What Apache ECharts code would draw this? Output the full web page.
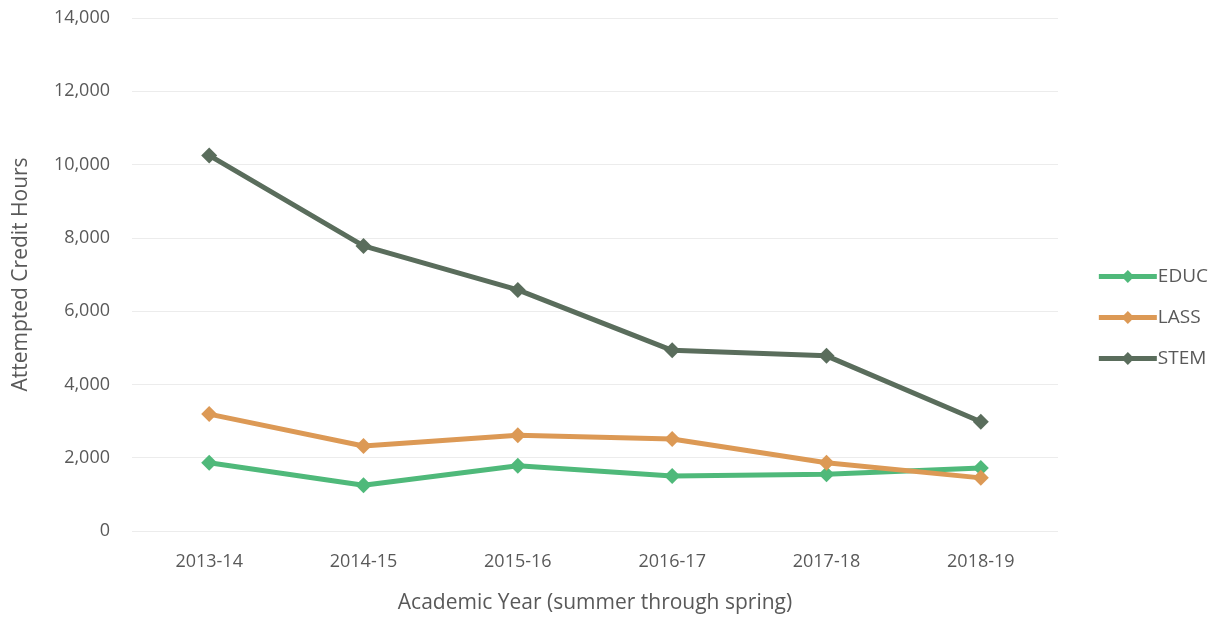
<!DOCTYPE html>
<html>
<head>
<meta charset="utf-8">
<script src="https://cdn.jsdelivr.net/npm/echarts@6/dist/echarts.min.js"></script>
<style>
  html, body { margin: 0; padding: 0; background: #fff; }
  #chart { width: 1221px; height: 618px; }
</style>
</head>
<body>
<div id="chart"></div>
<script>
var years = ["2013-14", "2014-15", "2015-16", "2016-17", "2017-18", "2018-19"];
var educ = [1860, 1250, 1780, 1500, 1550, 1720];
var lass = [3190, 2320, 2610, 2510, 1860, 1450];
var stem = [10250, 7780, 6580, 4930, 4780, 2980];

var myChart = echarts.init(document.getElementById("chart"));
var font = "Open Sans";
var textColor = "#595959";

function line(name, data, color) {
  return {
    name: name,
    type: "line",
    data: data,
    symbol: "diamond",
    symbolSize: 16,
    lineStyle: { width: 5, color: color },
    itemStyle: { color: color },
    animation: false
  };
}

myChart.setOption({
  textStyle: { fontFamily: font },
  grid: { left: 132, right: 163, top: 18, bottom: 87, containLabel: false, outerBoundsMode: "none" },
  legend: {
    orient: "vertical",
    right: 8,
    top: 262,
    itemGap: 22,
    itemWidth: 58,
    itemHeight: 16,
    lineStyle: { width: 5 },
    textStyle: { fontSize: 19, color: textColor, fontFamily: font, padding: [0, 0, 0, -4] },
    data: ["EDUC", "LASS", "STEM"]
  },
  xAxis: {
    type: "category",
    data: years,
    name: "Academic Year (summer through spring)",
    nameLocation: "middle",
    nameGap: 62,
    nameTextStyle: { fontSize: 21, color: textColor },
    axisLine: { show: false },
    axisTick: { show: false },
    axisLabel: { fontSize: 18, color: textColor, margin: 22 }
  },
  yAxis: {
    type: "value",
    min: 0,
    max: 14000,
    interval: 2000,
    name: "Attempted Credit Hours",
    nameLocation: "middle",
    nameGap: 100,
    nameTextStyle: { fontSize: 21, color: textColor },
    axisLabel: {
      fontSize: 18,
      color: textColor,
      margin: 22,
      formatter: function (v) { return v.toLocaleString("en-US"); }
    },
    splitLine: { lineStyle: { color: "#ececec", width: 1 } }
  },
  series: [
    line("EDUC", educ, "#4fb97a"),
    line("LASS", lass, "#dc9955"),
    line("STEM", stem, "#5a6d5c")
  ]
});
</script>
</body>
</html>
